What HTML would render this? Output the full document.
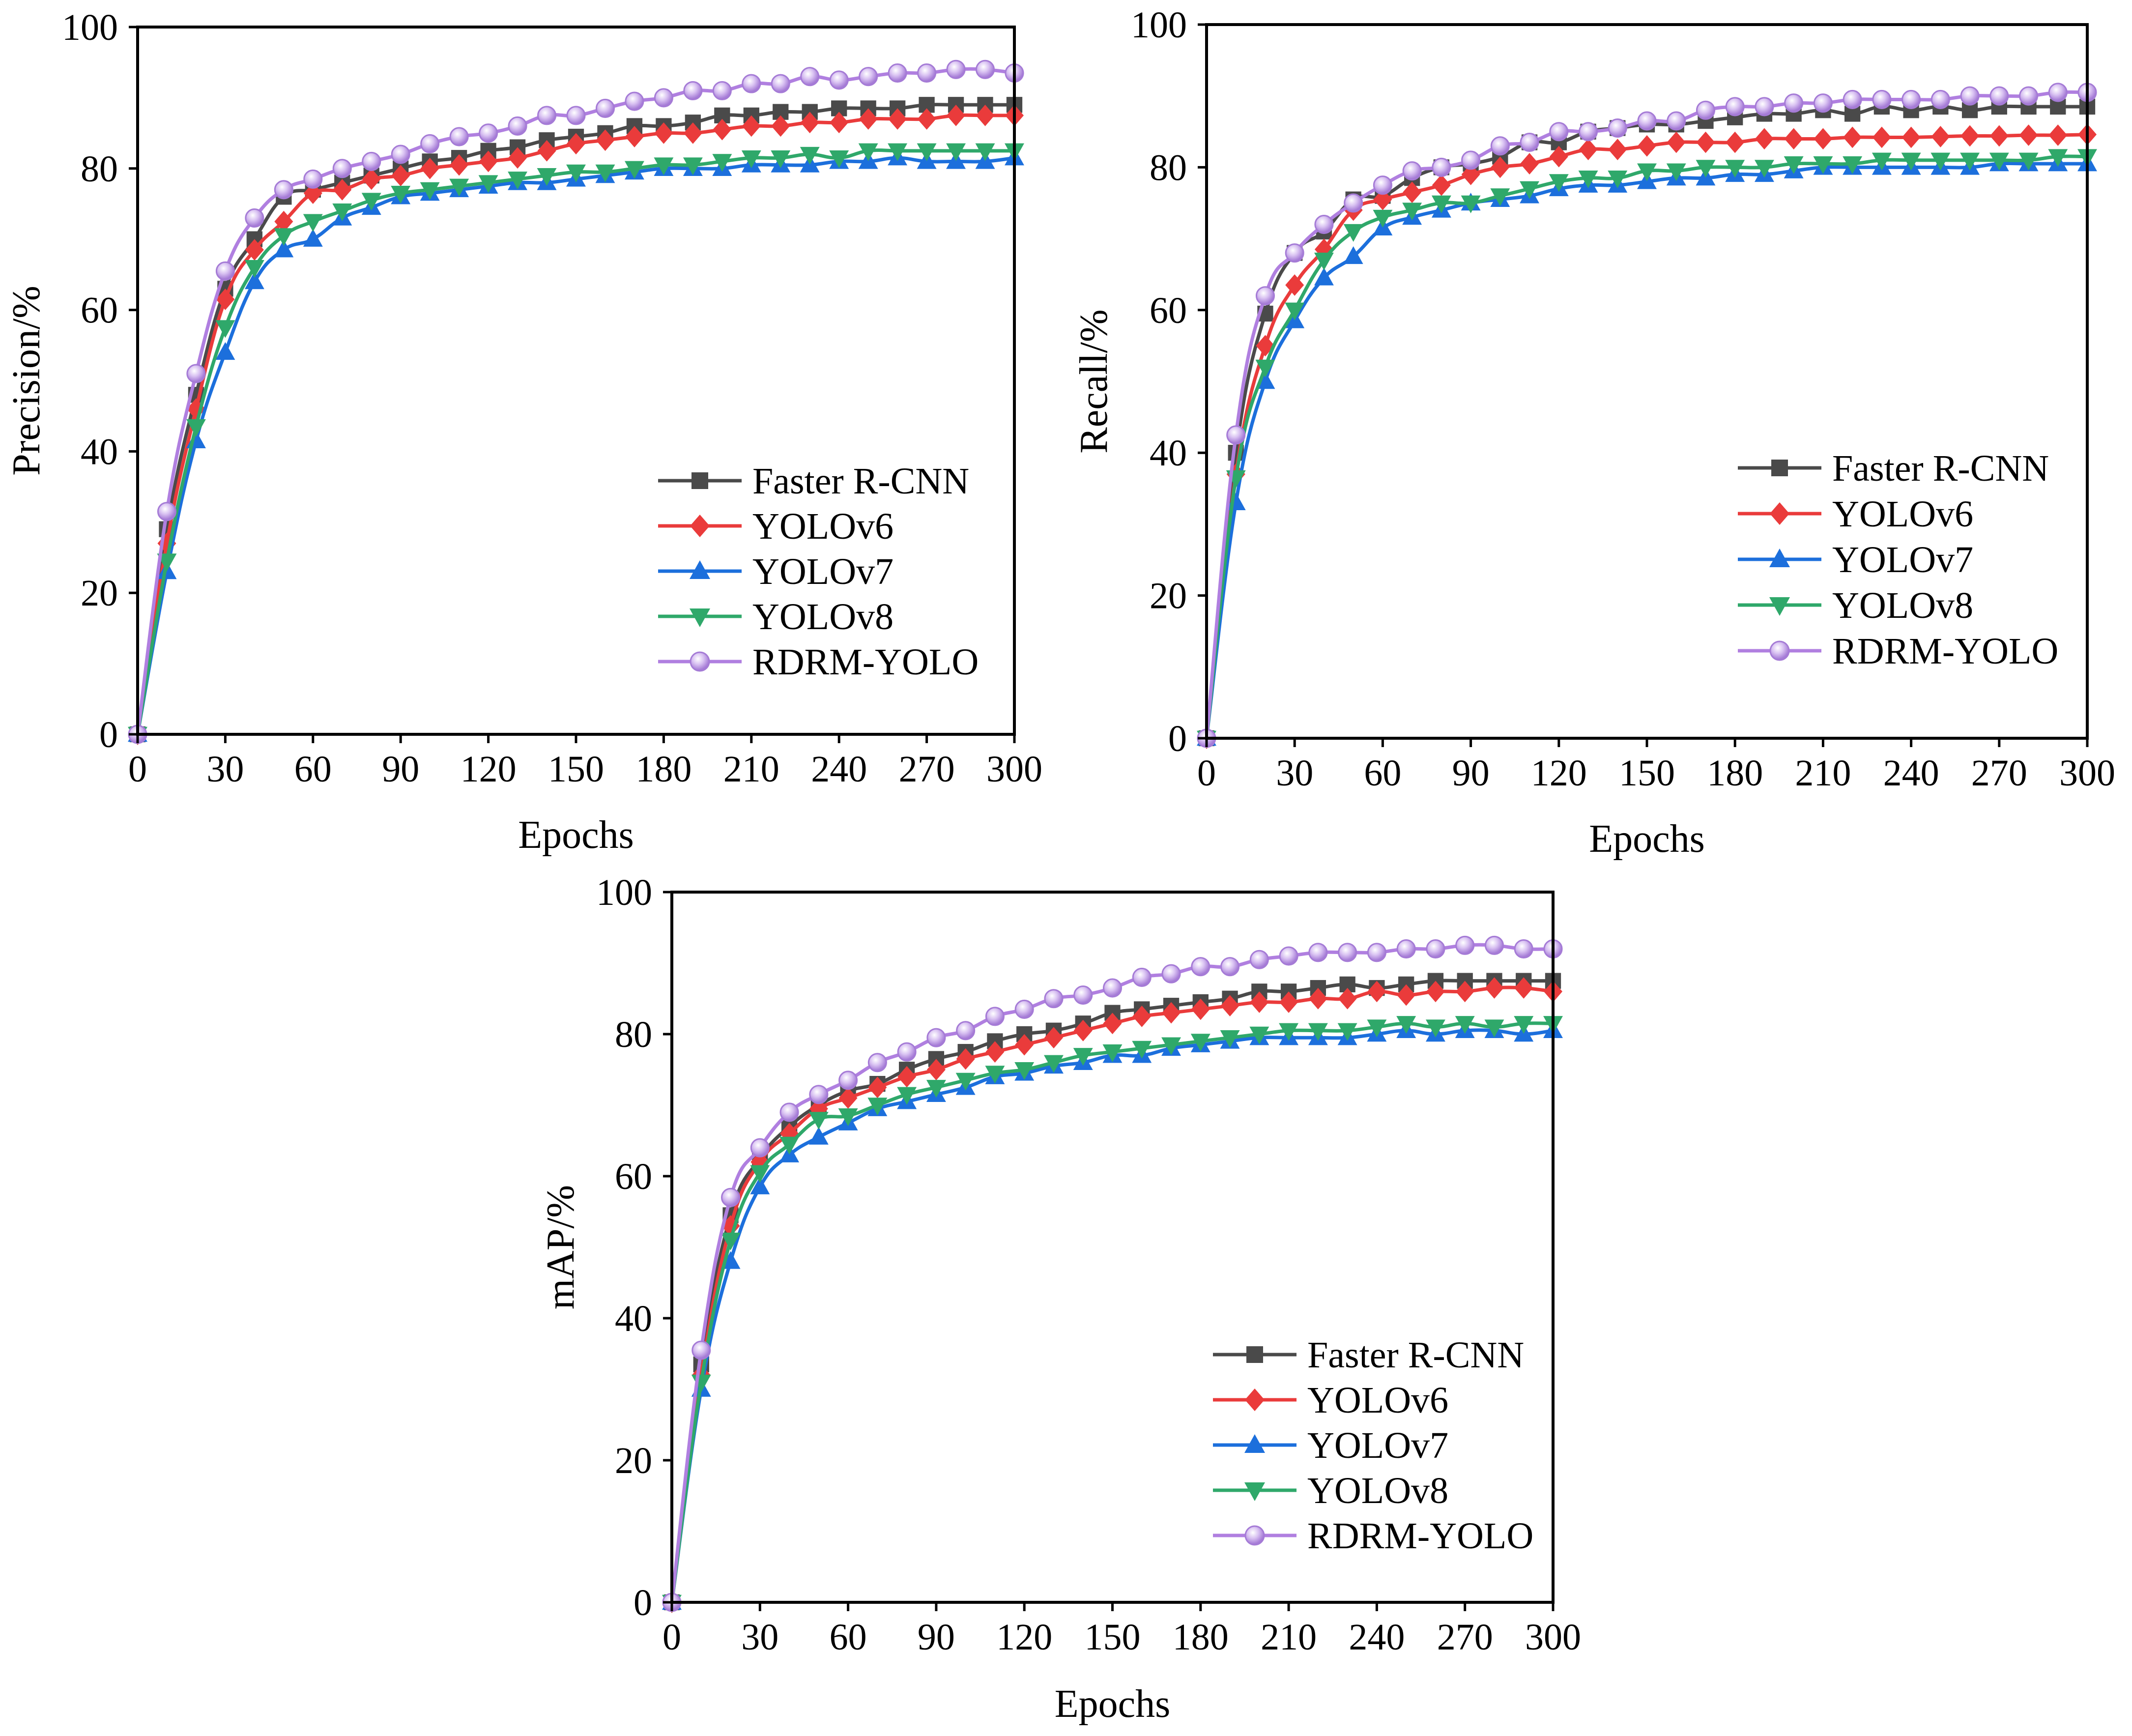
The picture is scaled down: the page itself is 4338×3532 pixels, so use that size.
<!DOCTYPE html>
<html><head><meta charset="utf-8">
<style>
html,body{margin:0;padding:0;background:#fff;}
svg{display:block;font-family:"Liberation Serif",serif;}
</style></head>
<body>
<svg id="root" width="4338" height="3532" viewBox="0 0 4338 3532" xmlns="http://www.w3.org/2000/svg">
<defs>
<radialGradient id="gPurple" cx="0.4" cy="0.35" r="0.6">
<stop offset="0" stop-color="#ffffff"/><stop offset="0.5" stop-color="#d9c2f2"/><stop offset="1" stop-color="#a57bd6"/>
</radialGradient>
</defs>
</svg>
<script>
const epochs = [0,10,20,30,40,50,60,70,80,90,100,110,120,130,140,150,160,170,180,190,200,210,220,230,240,250,260,270,280,290,300];
const xTicks = [0,30,60,90,120,150,180,210,240,270,300];
const yTicks = [0,20,40,60,80,100];
const seriesNames = ["Faster R-CNN","YOLOv6","YOLOv7","YOLOv8","RDRM-YOLO"];

const precFaster = [0,29,48,63,70,76,77,78,79,80,81,81.5,82.5,83,84,84.5,85,86,86,86.5,87.5,87.5,88,88,88.5,88.5,88.5,89,89,89,89];
const precV6 = [0,27,46,61.5,68.5,72.5,76.5,77,78.5,79,80,80.5,81,81.5,82.5,83.5,84,84.5,85,85,85.5,86,86,86.5,86.5,87,87,87,87.5,87.5,87.5];
const precV7 = [0,23,41.5,54,64,68.5,70,73,74.5,76,76.5,77,77.5,78,78,78.5,79,79.5,80,80,80,80.5,80.5,80.5,81,81,81.5,81,81,81,81.5];
const precV8 = [0,24.5,43.5,57.5,66,70.5,72.5,74,75.5,76.5,77,77.5,78,78.5,79,79.5,79.5,80,80.5,80.5,81,81.5,81.5,82,81.5,82.5,82.5,82.5,82.5,82.5,82.5];
const precRDRM = [0,31.5,51,65.5,73,77,78.5,80,81,82,83.5,84.5,85,86,87.5,87.5,88.5,89.5,90,91,91,92,92,93,92.5,93,93.5,93.5,94,94,93.5];

const recFaster = [0,40,59.5,68,71,75.5,76,78.5,80,80.5,81.5,83.5,83.5,85,85.5,86,86,86.5,87,87.5,87.5,88,87.5,88.5,88,88.5,88,88.5,88.5,88.5,88.5];
const recV6 = [0,37,55,63.5,68.5,74,75.5,76.5,77.5,79,80,80.5,81.5,82.5,82.5,83,83.5,83.5,83.5,84,84,84,84.2,84.2,84.2,84.3,84.4,84.4,84.5,84.5,84.6];
const recV7 = [0,33,50,58.5,64.5,67.5,71.5,73,74,75,75.5,76,77,77.5,77.5,78,78.5,78.5,79,79,79.5,80,80,80,80,80,80,80.5,80.5,80.5,80.5];
const recV8 = [0,36.5,52,60,67,71,73,74,75,75,76,77,78,78.5,78.5,79.5,79.5,80,80,80,80.5,80.5,80.5,81,81,81,81,81,81,81.5,81.5];
const recRDRM = [0,42.5,62,68,72,75,77.5,79.5,80,81,83,83.5,85,85,85.5,86.5,86.5,88,88.5,88.5,89,89,89.5,89.5,89.5,89.5,90,90,90,90.5,90.5];

const mapFaster = [0,33.5,54.5,62.5,67,70,72,73,75,76.5,77.5,79,80,80.5,81.5,83,83.5,84,84.5,85,86,86,86.5,87,86.5,87,87.5,87.5,87.5,87.5,87.5];
const mapV6 = [0,32,53,62,66,69.5,71,72.5,74,75,76.5,77.5,78.5,79.5,80.5,81.5,82.5,83,83.5,84,84.5,84.5,85,85,86,85.5,86,86,86.5,86.5,86];
const mapV7 = [0,30,48,58.5,63,65.5,67.5,69.5,70.5,71.5,72.5,74,74.5,75.5,76,77,77,78,78.5,79,79.5,79.5,79.5,79.5,80,80.5,80,80.5,80.5,80,80.5];
const mapV8 = [0,31,51,60.5,64.5,68,68.5,70,71.5,72.5,73.5,74.5,75,76,77,77.5,78,78.5,79,79.5,80,80.5,80.5,80.5,81,81.5,81,81.5,81,81.5,81.5];
const mapRDRM = [0,35.5,57,64,69,71.5,73.5,76,77.5,79.5,80.5,82.5,83.5,85,85.5,86.5,88,88.5,89.5,89.5,90.5,91,91.5,91.5,91.5,92,92,92.5,92.5,92,92];

const NS = "http://www.w3.org/2000/svg";
const root = document.getElementById('root');
const styles = [
 {line:"#4a4a4a", fill:"#4a4a4a", shape:"square"},
 {line:"#ea3b3b", fill:"#ea3b3b", shape:"diamond"},
 {line:"#1c6fdc", fill:"#1c6fdc", shape:"up"},
 {line:"#2fa86a", fill:"#2fa86a", shape:"down"},
 {line:"#b07fe0", fill:"url(#gPurple)", shape:"circle"}
];
function el(tag, attrs, parent){const e=document.createElementNS(NS,tag);for(const k in attrs)e.setAttribute(k,attrs[k]);parent.appendChild(e);return e;}
function smoothPath(pts){
 let d=`M${pts[0][0]},${pts[0][1]}`;
 for(let i=0;i<pts.length-1;i++){
  const p0=pts[Math.max(i-1,0)],p1=pts[i],p2=pts[i+1],p3=pts[Math.min(i+2,pts.length-1)];
  const t=0.2;
  d+=` C${p1[0]+(p2[0]-p0[0])*t},${p1[1]+(p2[1]-p0[1])*t} ${p2[0]-(p3[0]-p1[0])*t},${p2[1]-(p3[1]-p1[1])*t} ${p2[0]},${p2[1]}`;
 }
 return d;
}
function marker(g, shape, x, y, s, fill){
 const r=s/2; let m;
 if(shape==="square") m=el('rect',{x:x-r*0.85,y:y-r*0.85,width:r*1.7,height:r*1.7,fill:fill},g);
 else if(shape==="diamond") m=el('polygon',{points:`${x},${y-r*1.15} ${x+r*1.0},${y} ${x},${y+r*1.15} ${x-r*1.0},${y}`,fill:fill},g);
 else if(shape==="up") m=el('polygon',{points:`${x},${y-r*1.1} ${x+r*1.05},${y+r*0.8} ${x-r*1.05},${y+r*0.8}`,fill:fill},g);
 else if(shape==="down") m=el('polygon',{points:`${x},${y+r*1.1} ${x+r*1.05},${y-r*0.8} ${x-r*1.05},${y-r*0.8}`,fill:fill},g);
 else m=el('circle',{cx:x,cy:y,r:r*0.95,fill:fill,stroke:"#a57bd6","stroke-width":3},g);
 return m;
}
function chart(cfg){
 const g=el('g',{},root);
 
 
 const L=cfg.L,R=cfg.R,T=cfg.T,B=cfg.B;
 const xs=v=>L+(v-0)/(300-0)*(R-L);
 const ys=v=>B-(v-0)/(100-0)*(B-T);
 cfg.series.forEach((data,si)=>{
  const st=styles[si];
  const sg=el('g',{},g);
  
  
  const pts=data.map((v,i)=>[xs(epochs[i]),ys(v)]);
  const p=el('path',{d:smoothPath(pts),fill:"none",stroke:st.line,"stroke-width":7},sg);
  
  
  pts.forEach(pt=>{
   const m=marker(sg,st.shape,pt[0],pt[1],38,st.fill);
   
   
  });
 });
 const fr=el('rect',{x:L,y:T,width:R-L,height:B-T,fill:"none",stroke:"#000","stroke-width":6},g);
 
 
 xTicks.forEach(v=>{
  const x=xs(v);
  el('line',{x1:x,y1:B,x2:x,y2:B+18,stroke:"#000","stroke-width":5},g);
  const t=el('text',{x:x,y:B+96,"font-size":76,"text-anchor":"middle"},g);
  t.textContent=v;
  
  
 });
 yTicks.forEach(v=>{
  const y=ys(v);
  el('line',{x1:L-18,y1:y,x2:L,y2:y,stroke:"#000","stroke-width":5},g);
  const t=el('text',{x:L-40,y:y+26,"font-size":76,"text-anchor":"end"},g);
  t.textContent=v;
  
  
 });
 const xt=el('text',{x:(L+R)/2,y:cfg.xTitleY,"font-size":80,"text-anchor":"middle"},g);
 xt.textContent="Epochs";
 
 
 const yt=el('text',{x:0,y:0,"font-size":80,"text-anchor":"middle",transform:`translate(${cfg.yTitleX},${(T+B)/2}) rotate(-90)`},g);
 yt.textContent=cfg.yTitle;
 
 
 const lg=el('g',{},g);
 
 
 seriesNames.forEach((n,i)=>{
  const y=cfg.legY+i*cfg.legStep;
  const eg=el('g',{},lg);
  
  
  el('line',{x1:cfg.legX,y1:y,x2:cfg.legX+170,y2:y,stroke:styles[i].line,"stroke-width":7},eg);
  marker(eg,styles[i].shape,cfg.legX+85,y,40,styles[i].fill);
  const t=el('text',{x:cfg.legX+192,y:y+26,"font-size":76},eg);
  t.textContent=n;
 });
}
chart({name:"precision-chart",L:280,R:2064,T:55,B:1494,xTitleY:1725,yTitleX:80,yTitle:"Precision/%",
 series:[precFaster,precV6,precV7,precV8,precRDRM],legX:1339,legY:978,legStep:92});
chart({name:"recall-chart",L:2455,R:4247,T:50,B:1502,xTitleY:1733,yTitleX:2252,yTitle:"Recall/%",
 series:[recFaster,recV6,recV7,recV8,recRDRM],legX:3536,legY:952,legStep:93});
chart({name:"map-chart",L:1367,R:3160,T:1815,B:3260,xTitleY:3493,yTitleX:1167,yTitle:"mAP/%",
 series:[mapFaster,mapV6,mapV7,mapV8,mapRDRM],legX:2468,legY:2756,legStep:92});
</script>
</body></html>
